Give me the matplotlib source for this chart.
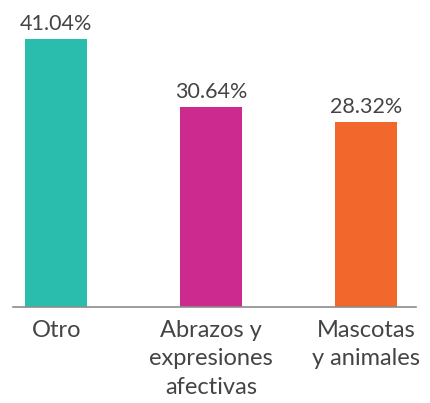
import matplotlib
matplotlib.use("Agg")
import matplotlib.pyplot as plt

categories = ["Otro", "Abrazos y\nexpresiones\nafectivas", "Mascotas\ny animales"]
values = [41.04, 30.64, 28.32]
colors = ["#2abcad", "#cc2a8f", "#f2672b"]

plt.rcParams["font.family"] = ["Lato", "DejaVu Sans"]

fig = plt.figure(figsize=(4.30, 4.03), dpi=100)
ax = fig.add_axes([0.030, 0.238, 0.937, 0.762])

x = range(len(values))
bars = ax.bar(x, values, width=0.4, color=colors)

for xi, v in zip(x, values):
    ax.text(xi, v + 0.7, f"{v:.2f}%", ha="center", va="bottom",
            fontsize=15.5, color="#444444")

ax.set_xlim(-0.28, 2.32)
ax.set_ylim(0, 47.0)
ax.set_yticks([])
ax.set_xticks(list(x))
ax.set_xticklabels(categories, fontsize=17, color="#444444",
                   linespacing=1.45)
ax.tick_params(axis="x", length=0, pad=9)
for side in ["top", "right", "left"]:
    ax.spines[side].set_visible(False)
ax.spines["bottom"].set_color("#8c8c8c")
ax.spines["bottom"].set_linewidth(1.2)

fig.savefig("out.png", dpi=100, facecolor="white")
